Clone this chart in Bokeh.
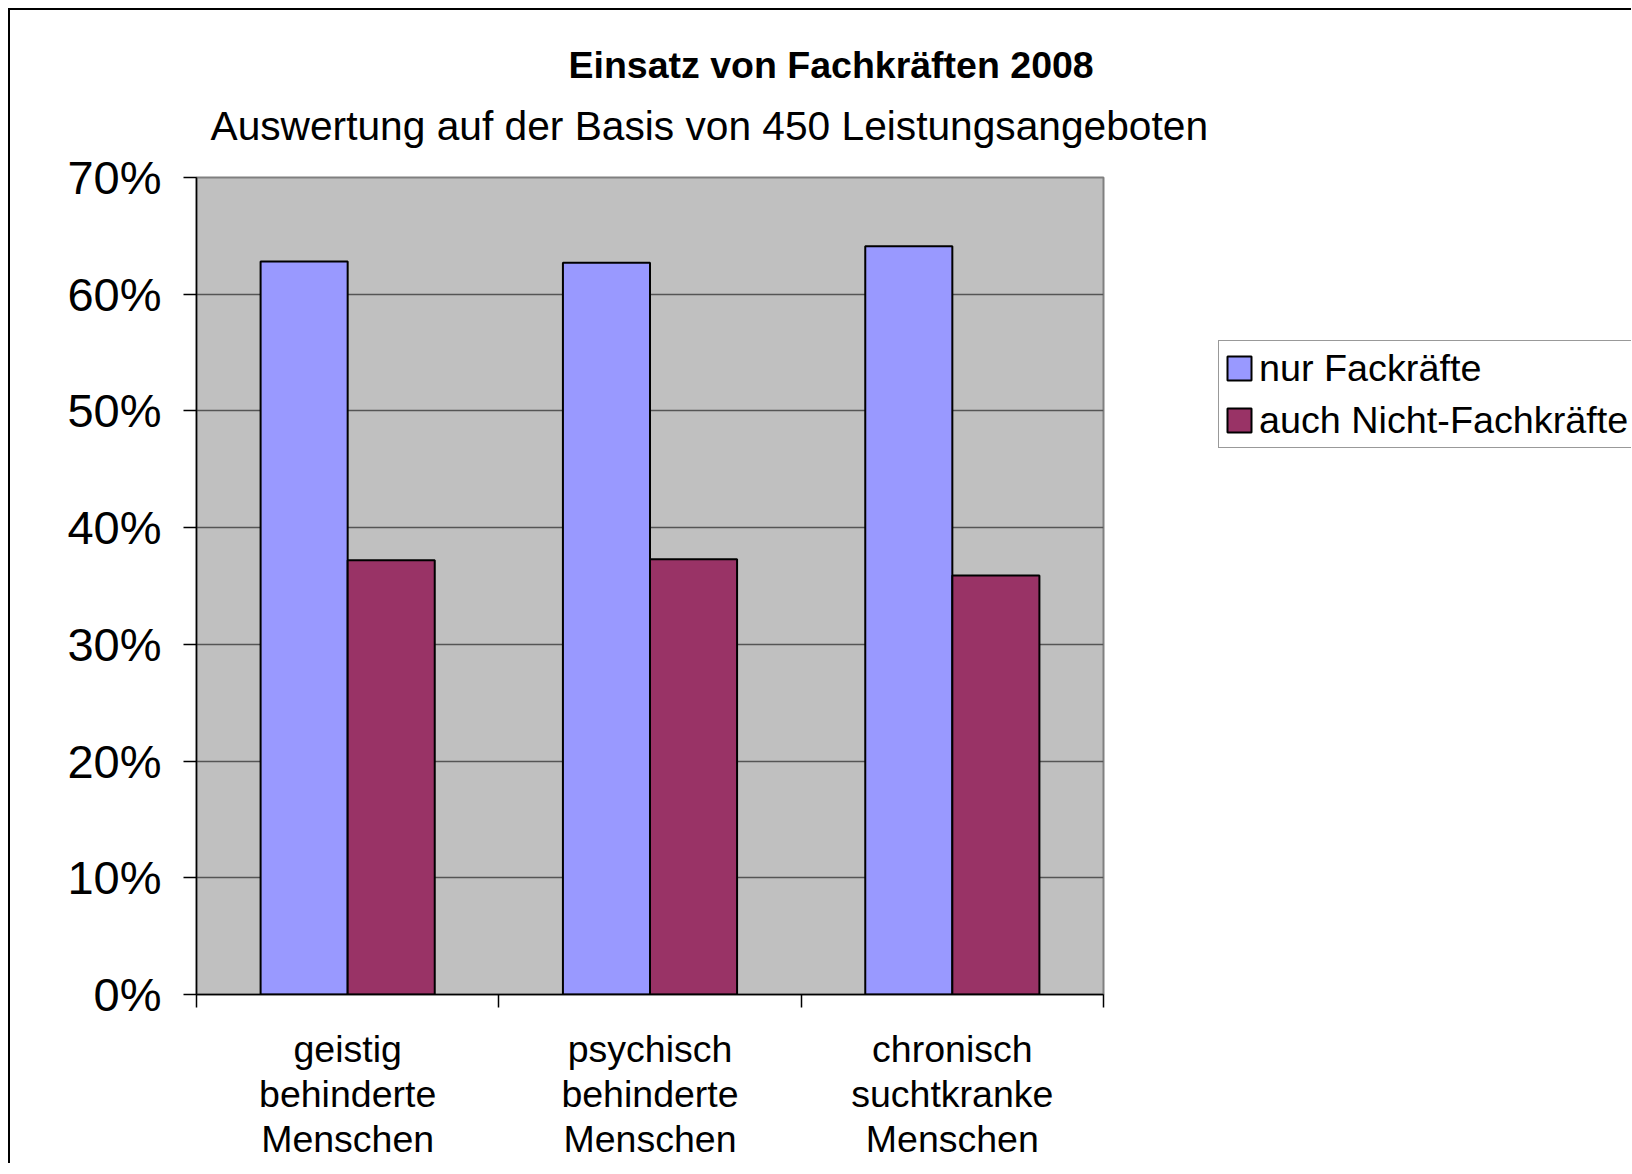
from bokeh.plotting import figure
from bokeh.layouts import row
from bokeh.models import (FixedTicker, NumeralTickFormatter, Legend, LegendItem,
                          Title, Range1d)
from bokeh.embed import file_html
from bokeh.resources import INLINE

# ---- data ----
categories = ["geistig\nbehinderte\nMenschen",
              "psychisch\nbehinderte\nMenschen",
              "chronisch\nsuchtkranke\nMenschen"]
nur_fachkraefte = [0.628, 0.627, 0.641]
auch_nicht_fachkraefte = [0.372, 0.373, 0.359]
series_names = ["nur Fackräfte", "auch Nicht-Fachkräfte"]
y_ticks = [0.0, 0.1, 0.2, 0.3, 0.4, 0.5, 0.6, 0.7]
title_text = "Einsatz von Fachkräften 2008"
subtitle_text = "Auswertung auf der Basis von 450 Leistungsangeboten"

FONT = "Liberation Sans"
BLUE = "#9999FF"
WINE = "#993366"
BAR_W = 0.288

n = len(categories)
centers = [i + 0.5 for i in range(n)]
x_blue = [c - BAR_W / 2 for c in centers]
x_red = [c + BAR_W / 2 for c in centers]

p = figure(frame_width=907, frame_height=817,
           x_range=Range1d(0, n), y_range=Range1d(0, y_ticks[-1]),
           output_backend="svg", toolbar_location=None, title=None,
           min_border_left=186, min_border_right=110,
           min_border_top=167, min_border_bottom=150)

p.background_fill_color = "#C0C0C0"
p.border_fill_color = "white"
p.outline_line_color = "#808080"
p.outline_line_width = 2

p.xgrid.visible = False
p.ygrid.ticker = FixedTicker(ticks=y_ticks)
p.ygrid.grid_line_color = "#555555"
p.ygrid.grid_line_width = 1.5

bar_style_blue = dict(fill_color=BLUE, line_color="black", line_width=2)
bar_style_wine = dict(fill_color=WINE, line_color="black", line_width=2)
p.vbar(x=x_blue, top=nur_fachkraefte, width=BAR_W, **bar_style_blue)
p.vbar(x=x_red, top=auch_nicht_fachkraefte, width=BAR_W, **bar_style_wine)

# y axis
ya = p.yaxis[0]
ya.ticker = FixedTicker(ticks=y_ticks)
ya.formatter = NumeralTickFormatter(format="0%")
ya.axis_line_color = "black"
ya.axis_line_width = 1.5
ya.major_tick_out = 13
ya.major_tick_in = 0
ya.major_tick_line_color = "black"
ya.major_tick_line_width = 1.5
ya.minor_tick_line_color = None
ya.major_label_text_font = FONT
ya.major_label_text_font_size = "47px"
ya.major_label_text_color = "black"
ya.major_label_standoff = 22

# x axis
xa = p.xaxis[0]
xa.ticker = FixedTicker(ticks=centers, minor_ticks=list(range(n + 1)))
xa.major_label_overrides = {c: lab for c, lab in zip(centers, categories)}
xa.axis_line_color = "black"
xa.axis_line_width = 1.5
xa.major_tick_line_color = None
xa.major_tick_out = 0
xa.major_tick_in = 0
xa.minor_tick_line_color = "black"
xa.minor_tick_line_width = 1.5
xa.minor_tick_out = 13
xa.minor_tick_in = 0
xa.major_label_text_font = FONT
xa.major_label_text_font_size = "37.5px"
xa.major_label_text_line_height = 1.08
xa.major_label_text_color = "black"
xa.major_label_standoff = 20

sub = Title(text=subtitle_text, align="left", offset=14, text_font=FONT,
            text_font_size="40.7px", text_font_style="normal",
            text_color="black", standoff=57)
main = Title(text=title_text, align="left", offset=372, text_font=FONT,
             text_font_size="37.5px", text_font_style="bold",
             text_color="black", standoff=-26)
p.add_layout(sub, "above")
p.add_layout(main, "above")

# legend holder (right part of the chart area); its frame is aligned with p's
pl = figure(width=418, height=1150, x_range=Range1d(0, 1), y_range=Range1d(0, 1),
            x_axis_type=None, y_axis_type=None, output_backend="svg",
            toolbar_location=None, min_border=0, title=None)
pl.outline_line_color = None
pl.background_fill_color = "white"
pl.border_fill_color = "white"
lr1 = pl.vbar(x=x_blue, top=nur_fachkraefte, width=BAR_W, visible=False,
              **bar_style_blue)
lr2 = pl.vbar(x=x_red, top=auch_nicht_fachkraefte, width=BAR_W, visible=False,
              **bar_style_wine)

legend = Legend(items=[LegendItem(label=series_names[0], renderers=[lr1]),
                       LegendItem(label=series_names[1], renderers=[lr2])],
                location=(5, 543), orientation="vertical",
                border_line_color="#333333", border_line_width=1.5,
                background_fill_color="white", background_fill_alpha=1,
                label_text_font=FONT, label_text_font_size="37.75px",
                label_text_color="black",
                glyph_width=30, glyph_height=30, label_standoff=5,
                padding=5, spacing=8, label_height=44, margin=0,
                click_policy="none")
pl.add_layout(legend)

lay = row(p, pl)
lay.styles = {"border-left": "2px solid black", "border-top": "2px solid black",
              "margin-left": "8px", "margin-top": "8px"}

open("out.html", "w").write(file_html(lay, INLINE))
